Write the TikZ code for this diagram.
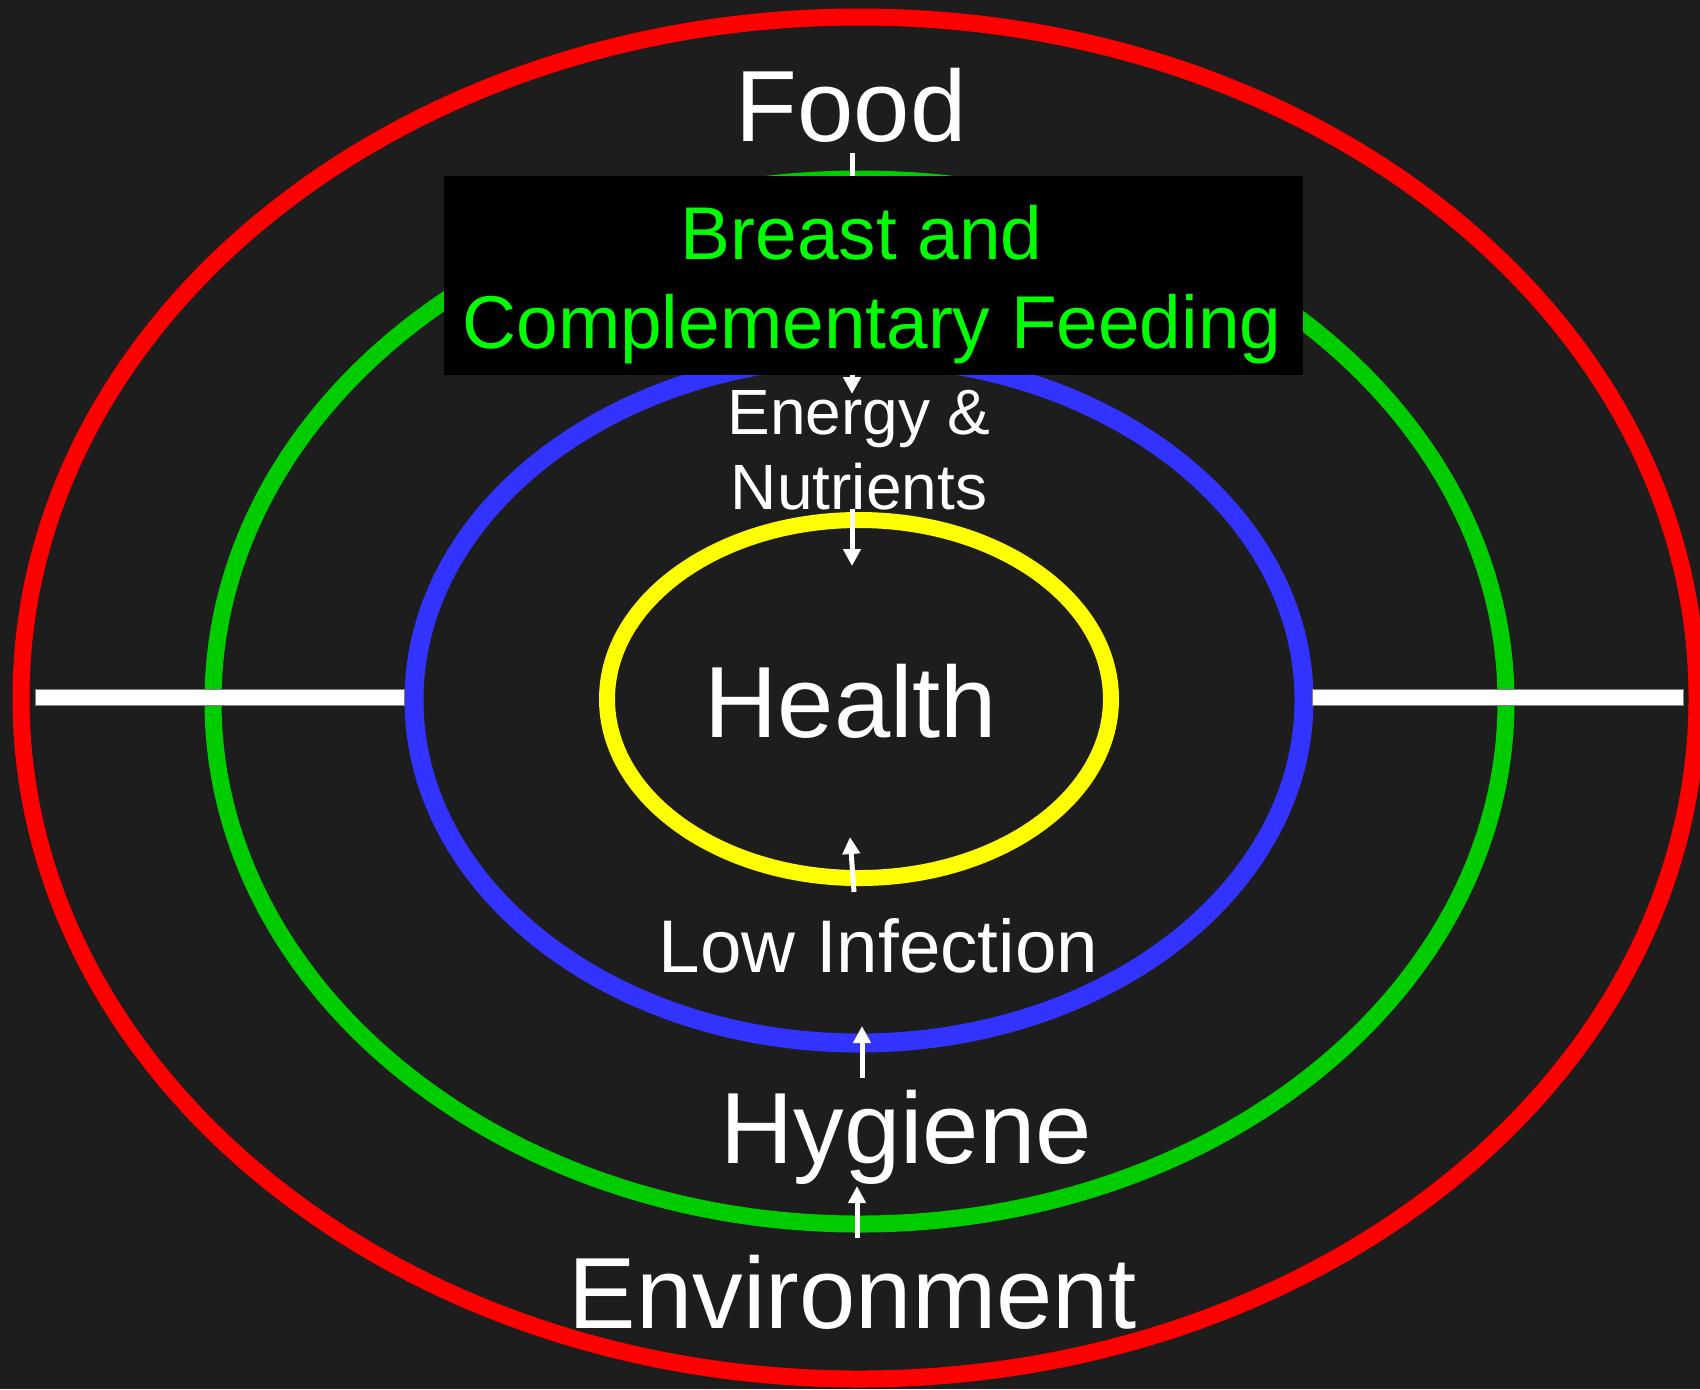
\documentclass[tikz,border=0pt]{standalone}
\usepackage{fontspec}
\setmainfont{Liberation Sans}
\usetikzlibrary{shapes.geometric, arrows.meta, calc}
\definecolor{bgdark}{RGB}{29,29,29}
\definecolor{ringred}{RGB}{255,0,0}
\definecolor{ringgreen}{RGB}{0,204,0}
\definecolor{ringblue}{RGB}{51,51,255}
\definecolor{ringyellow}{RGB}{255,255,0}
\definecolor{feedgreen}{RGB}{0,255,0}

\begin{document}
\begin{tikzpicture}[x=0.5pt, y=-0.5pt, >={Triangle[length=8.5pt, width=8.5pt]},
  ring/.style={ellipse, draw=#1, line width=8.5pt, inner sep=0pt},
  txt/.style={text=white, inner sep=0pt},
  big/.style={txt, font=\fontsize{50.6}{61}\selectfont},
  panel/.style={fill=black, minimum width=429.5pt, minimum height=99.5pt, inner sep=0pt},
  flow/.style={->, white, line width=2.5pt},
  bar/.style={fill=white, draw=gray, line width=0.5pt}]
  \useasboundingbox (0,0) rectangle (1700,1389);
  \fill[bgdark] (0,0) rectangle (1700,1389);

  % rings, outside in
  \node[ring=ringred, minimum width=838pt, minimum height=681pt] (outer) at (859,698) {};
  \node[ring=ringgreen, minimum width=646.5pt, minimum height=522.5pt] (middle) at (859.5,701.5) {};
  \node[ring=ringblue, line width=9.5pt, minimum width=445pt, minimum height=343pt] (inner) at (859,700) {};
  \node[ring=ringyellow, line width=8pt, minimum width=252pt, minimum height=179pt] (core) at (859,699) {};

  % side bars
  \draw[bar] (35,689) rectangle (404,705);
  \draw[bar] (1312,689) rectangle (1683,705);

  \node[big, anchor=base] (food) at (851,141) {Food};
  \node[txt, align=center, anchor=north, font=\fontsize{32}{37.5}\selectfont] (energy) at (859,390) {Energy \&\\Nutrients};
  \draw[flow] ($(food.base)+(1,12)$) -- ($(food.base |- energy.north)+(1,4)$);

  \node[panel] (panel) at (873.5,275.5) {};
  \node[txt, text=feedgreen, align=center, anchor=north, font=\fontsize{37.4}{44.5}\selectfont] (feeding) at (872,205) {Breast and\phantom{\ }\\Complementary Feeding};

  \node[big, anchor=base] (health) at (851,737) {Health};
  \node[txt, anchor=base, font=\fontsize{37.3}{45}\selectfont] (infection) at (878.5,972) {Low Infection};
  \node[big, anchor=base] (hygiene) at (906,1163) {Hygiene};
  \node[big, anchor=base] (environment) at (853,1328) {Environment};

  \draw[flow] ($(energy.south)+(-7,-2)$) -- ($(health.base)+(1,-171)$);
  \draw[flow] ($(infection.base)+(-24.5,-80)$) -- ($(health.base)+(-1,100)$);
  \draw[flow] ($(hygiene.base)+(-44,-85)$) -- ($(infection.base)+(-16.5,54)$);
  \draw[flow] ($(environment.base)+(4,-90)$) -- ($(hygiene.base)+(-49,23)$);
\end{tikzpicture}
\end{document}
